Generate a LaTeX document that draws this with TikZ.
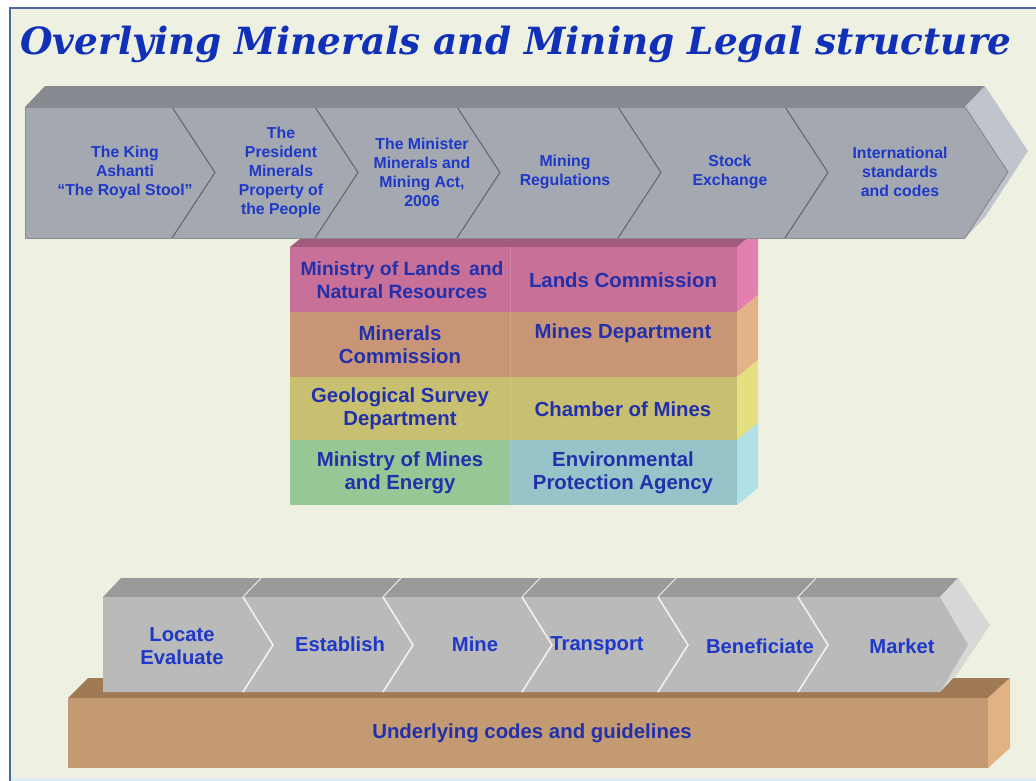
\documentclass[tikz,border=0pt]{standalone}
\usepackage{fontspec}
\setmainfont{Liberation Sans}
\newfontfamily\titlefont{DejaVu Serif}
\definecolor{bgcol}{RGB}{238,241,226}
\definecolor{framecol}{RGB}{74,106,154}
\definecolor{titleblue}{RGB}{16,48,184}
\definecolor{textblue}{RGB}{30,56,200}
\definecolor{cellblue}{RGB}{34,48,172}
\definecolor{barfront}{RGB}{164,168,176}
\definecolor{bartop}{RGB}{134,138,144}
\definecolor{barside}{RGB}{192,196,204}
\definecolor{stepfront}{RGB}{186,186,186}
\definecolor{steptop}{RGB}{154,154,154}
\definecolor{stepside}{RGB}{216,216,216}
\definecolor{slabfront}{RGB}{196,154,114}
\definecolor{slabtop}{RGB}{160,122,85}
\definecolor{slabside}{RGB}{224,178,132}
\definecolor{pinkrow}{RGB}{200,112,152}
\definecolor{pinkside}{RGB}{228,128,176}
\definecolor{pinktop}{RGB}{160,90,122}
\definecolor{tanrow}{RGB}{200,150,118}
\definecolor{tanside}{RGB}{228,178,136}
\definecolor{olivrow}{RGB}{200,192,112}
\definecolor{olivside}{RGB}{228,224,128}
\definecolor{greenrow}{RGB}{150,200,150}
\definecolor{tealrow}{RGB}{150,196,200}
\definecolor{tealside}{RGB}{176,224,232}
\definecolor{edgecol}{RGB}{222,236,240}
\tikzset{
    toplbl/.style={font=\bfseries\fontsize{9}{10.8}\selectfont,text=textblue,align=center},
    steplbl/.style={font=\bfseries\fontsize{11.5}{13}\selectfont,text=textblue,align=center},
    celllbl/.style={font=\bfseries\fontsize{11.6}{13}\selectfont,text=cellblue,align=center},
}
\begin{document}
\begin{tikzpicture}[x=0.02cm,y=-0.02cm]
        \useasboundingbox (0,0) rectangle (1036,781);
        \clip (0,0) rectangle (1036,781);
        %% frame
        \fill[white] (0,0) rectangle (1036,781);
        \draw[fill=bgcol,draw=framecol,line width=1.2pt] (10,8) rectangle (1050,790);
        \fill[edgecol] (11,778) rectangle (1036,781);
        \node[font=\titlefont\bfseries\itshape\fontsize{21.3}{24}\selectfont,text=titleblue,anchor=base] (title) at (516,54) {Overlying Minerals and Mining Legal structure};
        %% agency table
        \fill[pinktop] (290,247) -- (311,230) -- (758,230) -- (737,247) -- cycle;
        \foreach \ya/\yb/\cl/\cr/\cs in {247/312/pinkrow/pinkrow/pinkside,312/377/tanrow/tanrow/tanside,377/440/olivrow/olivrow/olivside,440/505/greenrow/tealrow/tealside} {
            \fill[\cl] (290,\ya) rectangle (510,\yb);
            \fill[\cr] (510,\ya) rectangle (737,\yb);
            \fill[\cs] (737,\ya) -- (758,\ya-17) -- (758,\yb-17) -- (737,\yb) -- cycle;
            \draw[white,opacity=0.15] (510,\ya) -- (510,\yb);
        }
        \node[celllbl,font=\bfseries\fontsize{11}{13}\selectfont] (lands) at (402,280) {Ministry of Lands\, and\\Natural Resources};
        \node[celllbl] (lcomm) at (623,280) {Lands Commission};
        \node[celllbl] (mcomm) at (400,344.5) {Minerals\\Commission};
        \node[celllbl] (mdept) at (623,333) {Mines Department};
        \node[celllbl] (geo) at (400,409) {Geological Survey\\Department};
        \node[celllbl] (chamber) at (623,409) {Chamber of Mines};
        \node[celllbl] (mines) at (400,473) {Ministry of Mines\\and Energy};
        \node[celllbl] (epa) at (623,473) {Environmental\\Protection Agency};
        %% legal chevron bar
        \fill[bartop] (25,107) -- (45,86) -- (985,86) -- (965,107) -- cycle;
        \fill[barside] (965,107) -- (985,86) -- (1028,151) -- (985,217) -- (965,238) -- (1008,172) -- cycle;
        \fill[barfront] (25,107) -- (965,107) -- (1008,172) -- (965,238) -- (25,238) -- cycle;
        \draw[black!45,line width=0.6pt] (965,107) -- (1008,172) -- (965,238);
        \foreach \x in {172,315,457,618,785} \draw[black!60,line width=0.6pt] (\x,107) -- ++(43,65.5) -- ++(-43,65.5);
        \draw[black!45,line width=0.4pt] (25,107) -- (965,107) (25,238) -- (965,238) (25,107) -- (25,238);
        \node[toplbl] (king) at (125,172) {The King\\Ashanti\\“The Royal Stool”};
        \node[toplbl] (pres) at (281,172) {The\\President\\Minerals\\Property of\\the People};
        \node[toplbl] (minister) at (422,172) {The Minister\\Minerals and\\Mining Act,\\2006};
        \node[toplbl] (regs) at (565,172) {Mining\\Regulations};
        \node[toplbl] (stock) at (730,172) {Stock\\Exchange};
        \node[toplbl] (intl) at (900,172) {International\\standards\\and codes};
        %% base slab
        \fill[slabtop] (68,698) -- (88,678) -- (1010,678) -- (988,698) -- cycle;
        \fill[slabside] (988,698) -- (1010,678) -- (1010,748) -- (988,768) -- cycle;
        \fill[slabfront] (68,698) rectangle (988,768);
        \node[celllbl] (codes) at (532,733) {Underlying codes and guidelines};
        %% value chain bar
        \fill[steptop] (103,597) -- (121,578) -- (958,578) -- (940,597) -- cycle;
        \fill[stepside] (940,597) -- (958,578) -- (990,625) -- (958,673) -- (940,692) -- (968,645) -- cycle;
        \fill[stepfront] (103,597) -- (940,597) -- (968,645) -- (940,692) -- (103,692) -- cycle;
        \foreach \x in {243,383,522,658,798} {
            \draw[white!90!gray,line width=0.9pt] (\x,597) -- ++(30,48) -- ++(-30,47);
            \draw[white!80!gray,line width=0.6pt] (\x,597) -- ++(18,-19);
        }
        \node[steplbl] (locate) at (182,646) {Locate\\Evaluate};
        \node[steplbl] (establish) at (340,644) {Establish};
        \node[steplbl] (mine) at (475,644) {Mine};
        \node[steplbl] (transport) at (597,646) {Transport};
        \node[steplbl] (benef) at (760,646) {Beneficiate};
        \node[steplbl] (market) at (902,646) {Market};
\end{tikzpicture}
\end{document}
